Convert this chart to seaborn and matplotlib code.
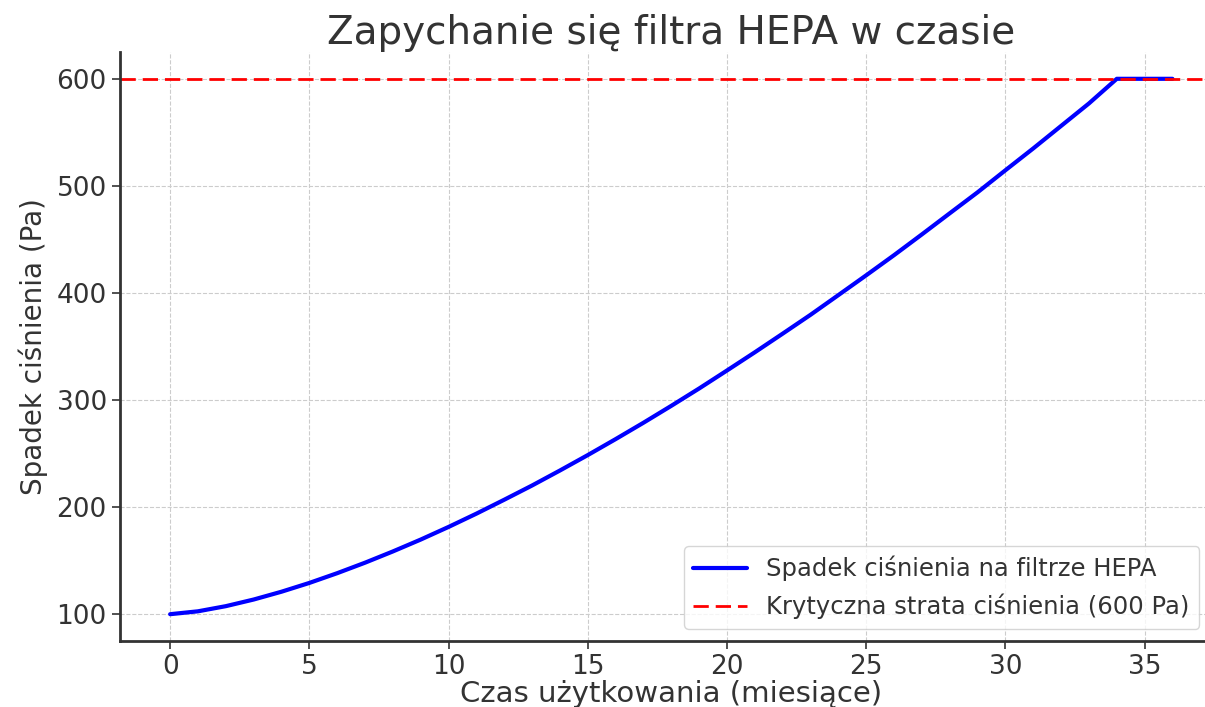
import numpy as np
import pandas as pd
import matplotlib
matplotlib.use("Agg")
import matplotlib.pyplot as plt
import seaborn as sns

# ---------------------------------- Data ----------------------------------

months = list(range(0, 37))
pressure_drop = [100.0, 102.7, 107.5, 113.7, 121.0, 129.2, 138.3, 148.1, 158.6, 169.7,
                 181.5, 193.9, 206.9, 220.2, 234.2, 248.6, 263.5, 278.8, 294.6, 310.8,
                 327.6, 344.6, 362.0, 379.6, 398.0, 416.5, 435.3, 454.7, 474.4, 494.0,
                 514.6, 535.0, 556.0, 577.0, 600.0, 600.0, 600.0]
critical_level = 600

title = "Zapychanie się filtra HEPA w czasie"
x_label = "Czas użytkowania (miesiące)"
y_label = "Spadek ciśnienia (Pa)"
line_label = "Spadek ciśnienia na filtrze HEPA"
crit_label = "Krytyczna strata ciśnienia (600 Pa)"

df = pd.DataFrame({"month": months, "dp": pressure_drop})

# ---------------------------------- Styling ----------------------------------

sns.set_style("whitegrid", {
    "grid.linestyle": "--",
    "grid.color": "#cccccc",
    "axes.edgecolor": "#333333",
    "xtick.bottom": True,
    "ytick.left": True,
    "xtick.color": "#333333",
    "ytick.color": "#333333",
    "text.color": "#333333",
    "axes.labelcolor": "#333333",
})
plt.rcParams["font.family"] = ["DejaVu Sans"]

fig = plt.figure(figsize=(12.05, 7.07), dpi=100)
ax = fig.add_axes([0.0996, 0.0934, 0.915, 0.833])

sns.lineplot(data=df, x="month", y="dp", ax=ax, color="blue", linewidth=3, label=line_label)
ax.axhline(critical_level, color="red", linestyle="--", linewidth=2, dashes=(5.5, 2.5), label=crit_label)

ax.set_title(title, fontsize=28, pad=6)
ax.set_xlabel(x_label, fontsize=21, labelpad=0)
ax.set_ylabel(y_label, fontsize=20, labelpad=6)
ax.set_xticks(range(0, 36, 5))
ax.set_yticks(range(100, 601, 100))
ax.tick_params(axis="both", labelsize=19, length=6, width=1.2, direction="out")
ax.set_xlim(-1.8, 37.8)
ax.set_ylim(75, 625)

for side in ["top", "right"]:
    ax.spines[side].set_visible(False)
for side in ["left", "bottom"]:
    ax.spines[side].set_linewidth(2)

ax.legend(loc="lower right", fontsize=17.5, frameon=True, edgecolor="#cccccc",
          bbox_to_anchor=(0.99, 0.0), handlelength=2.2)

fig.savefig("out.png", dpi=100)
